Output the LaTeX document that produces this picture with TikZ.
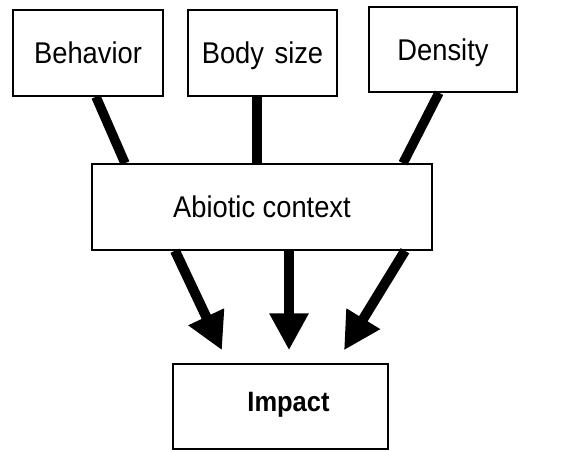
\documentclass[tikz,border=0pt]{standalone}
\usepackage{fontspec}
\setmainfont[FakeStretch=0.91]{Liberation Sans}
\usetikzlibrary{arrows.meta}
\begin{document}
\begin{tikzpicture}[x=1pt,y=-1pt,
  box/.style={draw=black,line width=1.5pt,fill=white,rectangle,inner sep=0pt,
    font=\fontsize{30}{34}\selectfont,text height=21.5pt,text depth=0pt},
  link/.style={line width=9.5pt},
  arr/.style={line width=10pt,-{Triangle[width=37pt,length=37pt]}}]
\fill[white] (0,0) rectangle (585,451);
\useasboundingbox (0,0) rectangle (585,451);
\node[box,minimum width=150pt,minimum height=86pt] (beh) at (88,53) {Behavior};
\node[box,minimum width=149pt,minimum height=86pt] (bod) at (262.5,53) {Body\hspace{3pt} size};
\node[box,minimum width=148pt,minimum height=85pt] (den) at (443,49.5) {Density};
\node[box,minimum width=340pt,minimum height=86pt] (abi) at (262,207) {Abiotic context};
\node[box,minimum width=215pt,minimum height=85pt] (imp) at (280.5,406.5) {};
\node[font=\fontsize{28}{32}\selectfont\bfseries,inner sep=0pt,text height=20pt,text depth=0pt] (impt) at (288.5,401) {Impact};
\draw[link] ([xshift=8pt]beh.south) -- ([xshift=-137pt]abi.north);
\draw[link] ([xshift=-5.5pt]bod.south) -- ([xshift=-5pt]abi.north);
\draw[link] ([xshift=-4pt]den.south) -- ([xshift=141pt]abi.north);
\draw[arr] ([xshift=-87pt]abi.south) -- ([xshift=-58.5pt,yshift=13pt]imp.north);
\draw[arr] ([xshift=27pt]abi.south) -- ([xshift=8.5pt,yshift=13pt]imp.north);
\draw[arr] ([xshift=143pt]abi.south) -- ([xshift=63.5pt,yshift=13pt]imp.north);
\end{tikzpicture}
\end{document}
